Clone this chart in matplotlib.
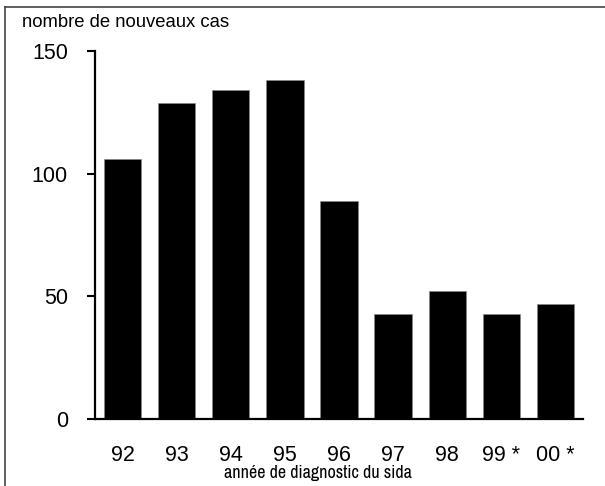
import matplotlib
matplotlib.use("Agg")
import matplotlib.pyplot as plt
from matplotlib.lines import Line2D

categories = ["92", "93", "94", "95", "96", "97", "98", "99 *", "00 *"]
values = [106, 129, 134, 138, 89, 43, 52, 43, 47]
yticks = [0, 50, 100, 150]

W, H = 605, 486
fig = plt.figure(figsize=(W / 100, H / 100), dpi=100)
plt.rcParams['font.family'] = ['Liberation Sans', 'DejaVu Sans']

ax = fig.add_axes([95 / W, 1 - 419 / H, (583 - 95) / W, (419 - 51) / H])
x = list(range(len(categories)))
ax.bar(x, values, width=0.69, color='black', edgecolor='#888888', linewidth=0.4)
ax.set_xlim(-0.51, 8.51)
ax.set_ylim(0, 150)
ax.set_yticks(yticks)
ax.set_yticklabels([str(t) for t in yticks], fontsize=15.5)
ax.set_xticks(x)
ax.set_xticklabels(categories, fontsize=15.5)
ax.tick_params(axis='y', length=5.8, width=1.5, pad=13.7, direction='out')
ax.tick_params(axis='x', length=0, pad=19)
for s in ['top', 'right']:
    ax.spines[s].set_visible(False)
ax.spines['left'].set_linewidth(1.6)
ax.spines['bottom'].set_linewidth(1.6)

fig.text(318 / W, 1 - 478 / H, "année de diagnostic du sida",
         fontsize=13, ha='center', va='baseline',
         family=['Liberation Sans Narrow', 'Archivo Narrow', 'Barlow Condensed'])
fig.text(22 / W, 1 - 27 / H, "nombre de nouveaux cas", fontsize=13.3,
         ha='left', va='baseline')

# outer frame (top and left edges)
fig.add_artist(Line2D([4.5 / W, 4.5 / W], [0, 1 - 7 / H], transform=fig.transFigure,
                      color='#444444', linewidth=1.2))
fig.add_artist(Line2D([4.5 / W, 1], [1 - 7 / H, 1 - 7 / H], transform=fig.transFigure,
                      color='#444444', linewidth=1.2))

fig.savefig("out.png", dpi=100, facecolor='white')
